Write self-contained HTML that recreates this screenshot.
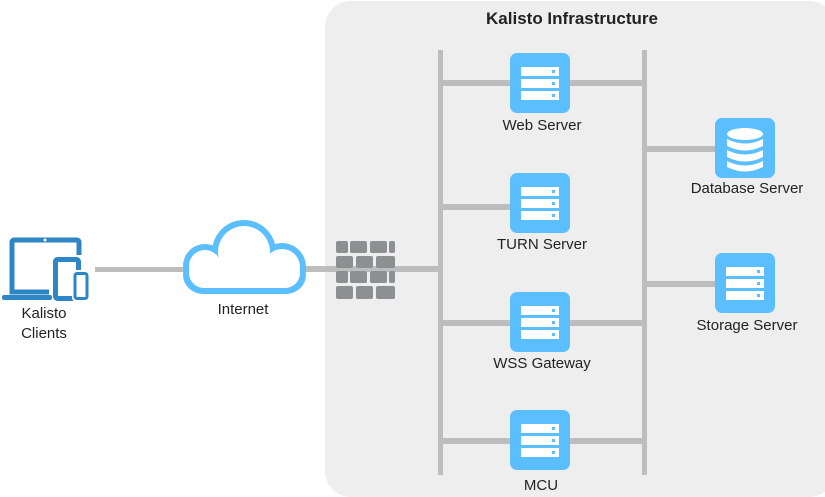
<!DOCTYPE html>
<html><head><meta charset="utf-8"><style>
body{margin:0;width:825px;height:495px;background:#fff;position:relative;overflow:hidden;font-family:"Liberation Sans",sans-serif;}
.a{position:absolute}
.t{position:absolute;font-size:15px;color:#222;text-align:center;white-space:nowrap;transform:translateX(-50%)}
</style></head><body>
<div class="a" style="left:325px;top:1px;width:510px;height:496px;background:#eeeeee;border-radius:26px;"></div>
<div class="t" style="left:572px;top:9px;font-weight:bold;font-size:17px">Kalisto Infrastructure</div>
<svg class="a" style="left:0;top:0" width="825" height="495">
<g fill="#bdbdbd">
<rect x="438" y="50" width="5" height="425"/>
<rect x="642" y="50" width="5" height="425"/>
<rect x="440" y="80" width="204" height="6"/>
<rect x="440" y="204" width="72" height="6"/>
<rect x="440" y="320" width="204" height="6"/>
<rect x="440" y="438" width="204" height="6"/>
<rect x="644" y="146" width="72" height="6"/>
<rect x="644" y="281" width="72" height="6"/>
<rect x="95" y="267" width="92" height="5"/>
<rect x="300" y="266" width="140" height="6"/>
</g>
<defs><g id="srv"><rect width="60" height="60" rx="7" fill="#5bbfff"/>
<rect x="11" y="14" width="38" height="9" fill="#fff"/><rect x="11" y="26" width="38" height="9" fill="#fff"/><rect x="11" y="38" width="38" height="9" fill="#fff"/>
<rect x="42" y="17" width="3" height="3" fill="#5bbfff"/><rect x="42" y="29" width="3" height="3" fill="#5bbfff"/><rect x="42" y="41" width="3" height="3" fill="#5bbfff"/></g></defs>
<use href="#srv" x="510" y="53"/>
<use href="#srv" x="510" y="173"/>
<use href="#srv" x="510" y="292"/>
<use href="#srv" x="510" y="410"/>
<use href="#srv" x="715" y="253"/>
<rect x="715" y="118" width="60" height="60" rx="7" fill="#5bbfff"/>
<g fill="#fff"><ellipse cx="745" cy="134" rx="18" ry="6"/>
<path d="M727 139 q18 9 36 0 v7 q-18 9 -36 0z"/><path d="M727 150 q18 9 36 0 v7 q-18 9 -36 0z"/><path d="M727 161 q18 9 36 0 v6 q-18 9 -36 0z"/></g>
<!-- cloud -->
<g fill="#5bbfff">
<circle cx="205" cy="266" r="22"/><circle cx="244" cy="252" r="32"/><circle cx="282" cy="267" r="24"/><rect x="183" y="256" width="123" height="38" rx="20"/>
</g>
<g fill="#fff">
<circle cx="205" cy="266" r="16"/><circle cx="244" cy="252" r="26"/><circle cx="282" cy="267" r="18"/><rect x="189" y="258" width="111" height="30" rx="15"/>
</g>
<!-- firewall -->
<g fill="#8c9090">
<rect x="336" y="241" width="12" height="12" rx="2"/><rect x="350" y="241" width="17" height="12" rx="2"/><rect x="370" y="241" width="17" height="12" rx="2"/><rect x="389" y="241" width="6" height="12" rx="2"/>
<rect x="336" y="256" width="17" height="12" rx="2"/><rect x="356" y="256" width="17" height="12" rx="2"/><rect x="376" y="256" width="19" height="12" rx="2"/>
<rect x="336" y="271" width="12" height="12" rx="2"/><rect x="350" y="271" width="17" height="12" rx="2"/><rect x="370" y="271" width="17" height="12" rx="2"/><rect x="389" y="271" width="6" height="12" rx="2"/>
<rect x="336" y="286" width="17" height="13" rx="2"/><rect x="356" y="286" width="17" height="13" rx="2"/><rect x="376" y="286" width="19" height="13" rx="2"/>
</g>
<!-- devices -->
<g fill="none" stroke="#2f86c6" stroke-width="5">
<path d="M49 292 h-37 v-50 a2 2 0 0 1 2 -2 h63 a2 2 0 0 1 2 2 v13"/>
</g>
<rect x="2" y="295" width="50" height="5" rx="2" fill="#2f86c6"/>
<circle cx="45" cy="240" r="1.5" fill="#fff"/>
<rect x="55.5" y="259.5" width="23" height="39" rx="2" fill="#fff" stroke="#2f86c6" stroke-width="5"/>
<rect x="72" y="270" width="18" height="31" rx="3" fill="#fff"/>
<rect x="75" y="273.5" width="12" height="25" rx="2" fill="#fff" stroke="#2f86c6" stroke-width="3"/>
</svg>
<div class="t" style="left:542px;top:117px">Web Server</div>
<div class="t" style="left:542px;top:236px">TURN Server</div>
<div class="t" style="left:542px;top:355px">WSS Gateway</div>
<div class="t" style="left:541px;top:477px">MCU</div>
<div class="t" style="left:747px;top:180px">Database Server</div>
<div class="t" style="left:747px;top:317px">Storage Server</div>
<div class="t" style="left:243px;top:301px">Internet</div>
<div class="t" style="left:44px;top:304px;line-height:20px">Kalisto<br>Clients</div>
</body></html>
